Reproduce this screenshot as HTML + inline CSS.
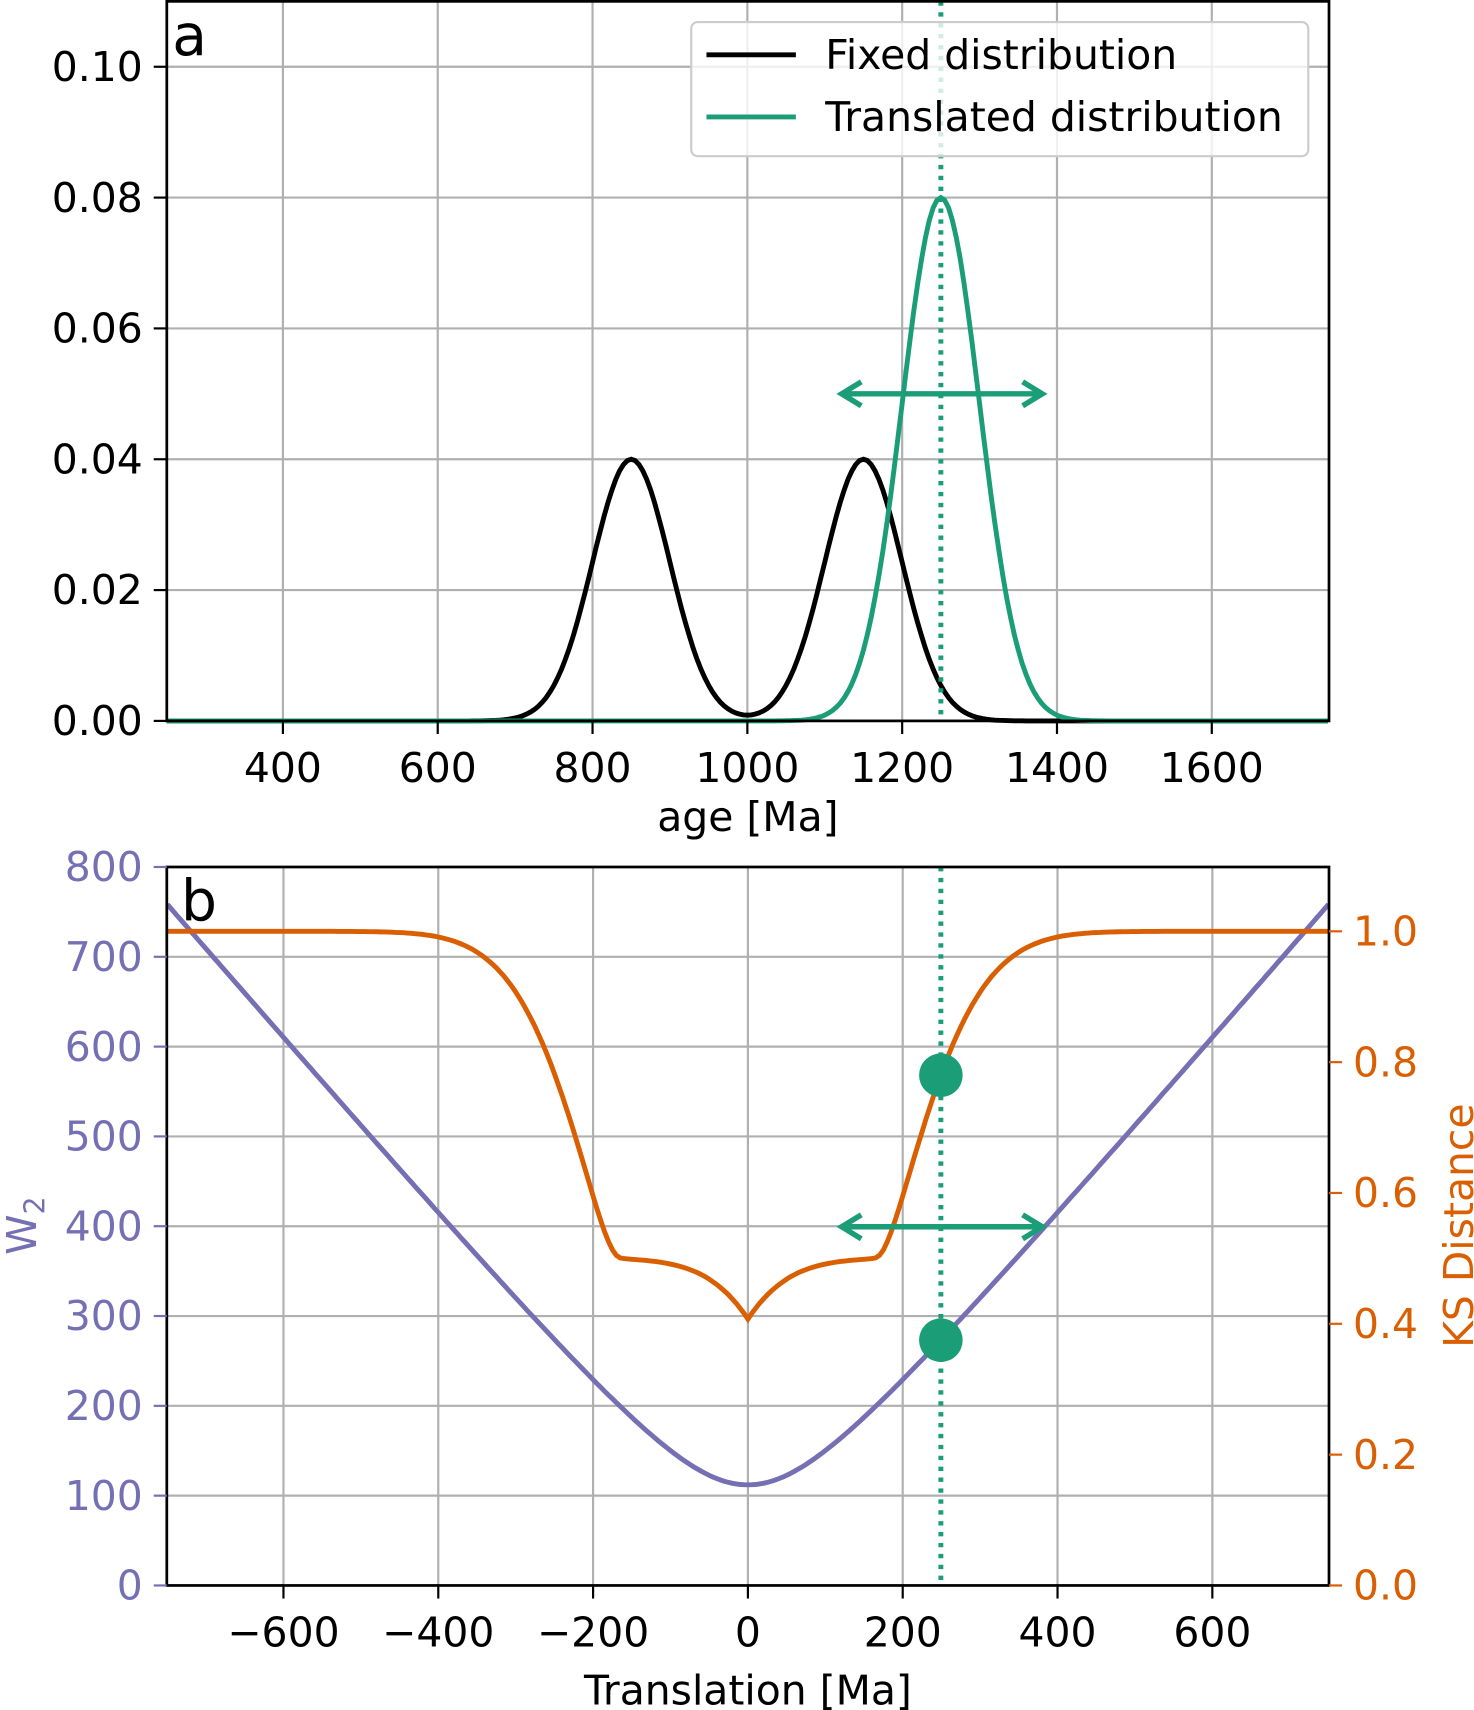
<!DOCTYPE html>
<html><head><meta charset="utf-8"><style>
html,body{margin:0;padding:0;background:#fff}
svg{display:block}
text{font-family:"DejaVu Sans","Liberation Sans",sans-serif}
</style></head><body>
<svg id="s" width="1474" height="1710" viewBox="0 0 1352 1568" xmlns="http://www.w3.org/2000/svg"></svg>
<script>
const s=document.getElementById('s');
let h='';
const G='#1b9e77',O='#d95f02',P='#7570b3',FS=37.5;
function erf(x){const t=1/(1+0.3275911*Math.abs(x));const y=1-(((((1.061405429*t-1.453152027)*t)+1.421413741)*t-0.284496736)*t+0.254829592)*t*Math.exp(-x*x);return x>=0?y:-y;}
function Phi(z){return 0.5*(1+erf(z/Math.SQRT2));}
const L=153,R=1219;
const tx=v=>L+(v-250)*0.71, ty=v=>661-v*6000;
for(let v=400;v<=1600;v+=200)h+=`<line x1="${tx(v)}" y1="1" x2="${tx(v)}" y2="661" stroke="#b0b0b0" stroke-width="2"/>`;
for(let v=0;v<=0.1001;v+=0.02)h+=`<line x1="${L}" y1="${ty(v)}" x2="${R}" y2="${ty(v)}" stroke="#b0b0b0" stroke-width="2"/>`;
const sg=50,g=(x,m,p)=>p*Math.exp(-(x-m)*(x-m)/(2*sg*sg));
let p1='',p2='';
for(let x=250;x<=1750;x+=5){p1+=(x==250?'M':'L')+tx(x).toFixed(1)+','+ty(g(x,850,.04)+g(x,1150,.04)).toFixed(1);p2+=(x==250?'M':'L')+tx(x).toFixed(1)+','+ty(g(x,1250,.08)).toFixed(1);}
h+=`<path d="${p1}" fill="none" stroke="#000" stroke-width="4.5"/><path d="${p2}" fill="none" stroke="${G}" stroke-width="4.5"/>`;
h+=`<line x1="863" y1="1" x2="863" y2="661" stroke="${G}" stroke-width="4.5" stroke-dasharray="4,6"/>`;
function arrow(y){return `<line x1="776" y1="${y}" x2="952" y2="${y}" stroke="${G}" stroke-width="5"/><path d="M790,${y-11} L772,${y} L790,${y+11}" fill="none" stroke="${G}" stroke-width="5"/><path d="M938,${y-11} L956,${y} L938,${y+11}" fill="none" stroke="${G}" stroke-width="5"/>`;}
h+=arrow(361);
h+=`<rect x="${L}" y="1" width="${R-L}" height="660" fill="none" stroke="#000" stroke-width="2.5"/>`;
for(let v=400;v<=1600;v+=200){h+=`<line x1="${tx(v)}" y1="661" x2="${tx(v)}" y2="673" stroke="#000" stroke-width="2"/><text x="${tx(v)}" y="717" font-size="${FS}" text-anchor="middle">${v}</text>`;}
for(let i=0;i<=5;i++){const v=i*0.02;h+=`<line x1="${L-12}" y1="${ty(v)}" x2="${L}" y2="${ty(v)}" stroke="#000" stroke-width="2"/><text x="${L-22}" y="${ty(v)+13}" font-size="${FS}" text-anchor="end">${v.toFixed(2)}</text>`;}
h+=`<text x="686" y="762" font-size="${FS}" text-anchor="middle">age [Ma]</text>`;
h+=`<text x="158" y="50" font-size="52">a</text>`;
h+=`<rect x="634" y="20" width="566" height="123" rx="6" fill="#fff" fill-opacity="0.8" stroke="#ccc" stroke-width="2"/>`;
h+=`<line x1="648" y1="50" x2="730" y2="50" stroke="#000" stroke-width="4.5"/><text x="757" y="63" font-size="${FS}">Fixed distribution</text>`;
h+=`<line x1="648" y1="107" x2="730" y2="107" stroke="${G}" stroke-width="4.5"/><text x="757" y="120" font-size="${FS}">Translated distribution</text>`;
const bx=v=>686+v*0.71, by=v=>1454-v*0.82375, bk=v=>1454-v*600, T=795;
for(let v=-600;v<=600;v+=200)h+=`<line x1="${bx(v)}" y1="${T}" x2="${bx(v)}" y2="1454" stroke="#b0b0b0" stroke-width="2"/>`;
for(let v=100;v<=700;v+=100)h+=`<line x1="${L}" y1="${by(v)}" x2="${R}" y2="${by(v)}" stroke="#b0b0b0" stroke-width="2"/>`;
let pw='',pk='';
for(let t=-750;t<=750;t+=5){
 pw+=(t==-750?'M':'L')+bx(t).toFixed(1)+','+by(Math.sqrt(t*t+112*112)).toFixed(1);
 let m=0;for(let x=500;x<=2300;x+=2){const F1=0.5*Phi((x-850)/sg)+0.5*Phi((x-1150)/sg);const F2=Phi((x-1000-t)/sg);m=Math.max(m,Math.abs(F1-F2));}
 pk+=(t==-750?'M':'L')+bx(t).toFixed(1)+','+bk(m).toFixed(1);
}
h+=`<path d="${pw}" fill="none" stroke="${P}" stroke-width="4.5"/><path d="${pk}" fill="none" stroke="${O}" stroke-width="4.5"/>`;
h+=`<line x1="863" y1="${T}" x2="863" y2="1454" stroke="${G}" stroke-width="4.5" stroke-dasharray="4,6"/>`;
h+=arrow(1125);
h+=`<circle cx="863" cy="986" r="20" fill="${G}"/><circle cx="863" cy="1229" r="20" fill="${G}"/>`;
h+=`<rect x="${L}" y="${T}" width="${R-L}" height="${1454-T}" fill="none" stroke="#000" stroke-width="2.5"/>`;
for(let v=-600;v<=600;v+=200){h+=`<line x1="${bx(v)}" y1="1454" x2="${bx(v)}" y2="1466" stroke="#000" stroke-width="2"/><text x="${bx(v)}" y="1510" font-size="${FS}" text-anchor="middle">${v<0?'\u2212'+(-v):v}</text>`;}
for(let v=0;v<=800;v+=100){h+=`<line x1="${L-12}" y1="${by(v)}" x2="${L}" y2="${by(v)}" stroke="${P}" stroke-width="2"/><text x="${L-22}" y="${by(v)+13}" font-size="${FS}" text-anchor="end" fill="${P}">${v}</text>`;}
for(let i=0;i<=5;i++){const v=i*0.2;h+=`<line x1="${R}" y1="${bk(v)}" x2="${R+12}" y2="${bk(v)}" stroke="${O}" stroke-width="2"/><text x="${R+22}" y="${bk(v)+13}" font-size="${FS}" fill="${O}">${v.toFixed(1)}</text>`;}
h+=`<text x="686" y="1563" font-size="${FS}" text-anchor="middle">Translation [Ma]</text>`;
h+=`<text x="166" y="844" font-size="52">b</text>`;
h+=`<text transform="translate(33,1124) rotate(-90)" font-size="${FS}" text-anchor="middle" fill="${P}">W<tspan font-size="26" dy="8">2</tspan></text>`;
h+=`<text transform="translate(1351,1124) rotate(-90)" font-size="${FS}" text-anchor="middle" fill="${O}">KS Distance</text>`;
s.innerHTML=h;
</script>
</body></html>
